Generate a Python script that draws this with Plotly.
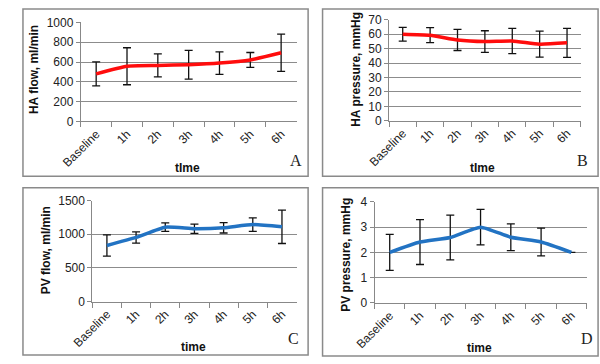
import plotly.graph_objects as go

categories = ["Baseline", "1h", "2h", "3h", "4h", "5h", "6h"]

ha_flow = [480, 557, 565, 573, 589, 621, 693]
ha_flow_err = [122, 187, 116, 145, 113, 75, 188]

ha_pressure = [60, 59.3, 56, 54.9, 55.3, 53.1, 54]
ha_pressure_err = [4.8, 5.2, 7.3, 7.5, 8.8, 9.0, 10]

pv_flow = [833, 952, 1105, 1081, 1095, 1143, 1110]
pv_flow_err = [158, 83, 62, 70, 77, 100, 248]

pv_pressure = [2.0, 2.41, 2.59, 3.0, 2.6, 2.41, 2.0]
pv_pressure_err = [0.71, 0.89, 0.89, 0.70, 0.53, 0.55, 0]

RED = "#ff0d0d"
BLUE = "#2273c3"
W, H = 600, 364

def px(x):
    return x / W

def py(y):
    return 1 - y / H

panels = [
    (ha_flow, ha_flow_err, RED, (61, 285), (16, 119), 1000, 200, "HA flow, ml/min", (12, 65),
     "tIme", (172, 167), "A", (284, 160)),
    (ha_pressure, ha_pressure_err, RED, (381, 580), (13.3, 118.3), 70, 10, "HA pressure, mmHg", (346, 65),
     "tIme", (478, 167), "B", (582, 160)),
    (pv_flow, pv_flow_err, BLUE, (73, 285), (201.3, 306.3), 1500, 500, "PV flow, ml/min", (25, 253),
     "time", (178, 354), "C", (282, 345)),
    (pv_pressure, pv_pressure_err, BLUE, (366, 586), (202.7, 307.7), 4, 1, "PV pressure, mmHg", (336, 258),
     "time", (475, 355), "D", (587, 345)),
]

borders = [(1, 2, 297, 176), (312, 2, 598, 176), (1, 188, 297, 362), (312, 188, 598, 363)]

fig = go.Figure()
annotations = []
shapes = []
FONT = "Liberation Sans, Arial, sans-serif"

for i, (vals, errs, color, xd, yd, ymax, dtick, ytitle, ytp, xtitle, xtp, letter, lp) in enumerate(panels):
    n = "" if i == 0 else str(i + 1)
    fig.add_trace(go.Scatter(
        x=categories, y=vals, mode="lines",
        line=dict(color=color, width=3.5, shape="spline", smoothing=0.5),
        error_y=dict(type="data", array=errs, visible=True, color="#111111", thickness=1.3, width=4),
        xaxis="x" + n, yaxis="y" + n, showlegend=False, hoverinfo="skip",
    ))
    fig.update_layout(**{
        "xaxis" + n: dict(
            domain=[px(xd[0]), px(xd[1])], anchor="y" + n, type="category",
            range=[-0.5, 6.5], tickson="boundaries", ticks="outside", ticklen=5,
            tickcolor="#888888", showline=True, linecolor="#888888", linewidth=1,
            showgrid=False, tickangle=-45,
            tickfont=dict(family=FONT, size=12, color="#222222"),
        ),
        "yaxis" + n: dict(
            domain=[py(yd[1]), py(yd[0])], anchor="x" + n,
            range=[0, ymax], dtick=dtick, ticks="outside", ticklen=4,
            tickcolor="#888888", showline=True, linecolor="#888888", linewidth=1,
            showgrid=True, gridcolor="#8c8c8c", gridwidth=1, zeroline=False,
            tickfont=dict(family=FONT, size=12, color="#222222"),
        ),
    })
    annotations.append(dict(
        x=px(ytp[0]), y=py(ytp[1]), xref="paper", yref="paper", text=ytitle,
        textangle=-90, showarrow=False, xanchor="center", yanchor="middle",
        font=dict(family=FONT, size=12, color="#111111", weight="bold"),
    ))
    annotations.append(dict(
        x=px(xtp[0]), y=py(xtp[1]), xref="paper", yref="paper", text=xtitle,
        showarrow=False, xanchor="center", yanchor="middle",
        font=dict(family=FONT, size=12, color="#111111", weight="bold"),
    ))
    annotations.append(dict(
        x=px(lp[0]), y=py(lp[1]), xref="paper", yref="paper", text=letter,
        showarrow=False, xanchor="center", yanchor="middle",
        font=dict(family="Liberation Serif, Times New Roman, serif", size=16, color="#222222"),
    ))

for (x0, y0, x1, y1) in borders:
    shapes.append(dict(type="rect", xref="paper", yref="paper",
                       x0=px(x0), x1=px(x1), y0=py(y1), y1=py(y0),
                       line=dict(color="#8a8a8a", width=1.5), layer="below"))

fig.update_layout(
    width=W, height=H, margin=dict(l=0, r=0, t=0, b=0),
    paper_bgcolor="white", plot_bgcolor="rgba(0,0,0,0)",
    annotations=annotations, shapes=shapes, showlegend=False,
)

fig.write_html(
    "out.html",
    config={"displayModeBar": False},
    post_script="document.body.style.margin='0';document.body.style.padding='0';"
                "document.body.style.overflow='hidden';document.documentElement.style.overflow='hidden';",
)
